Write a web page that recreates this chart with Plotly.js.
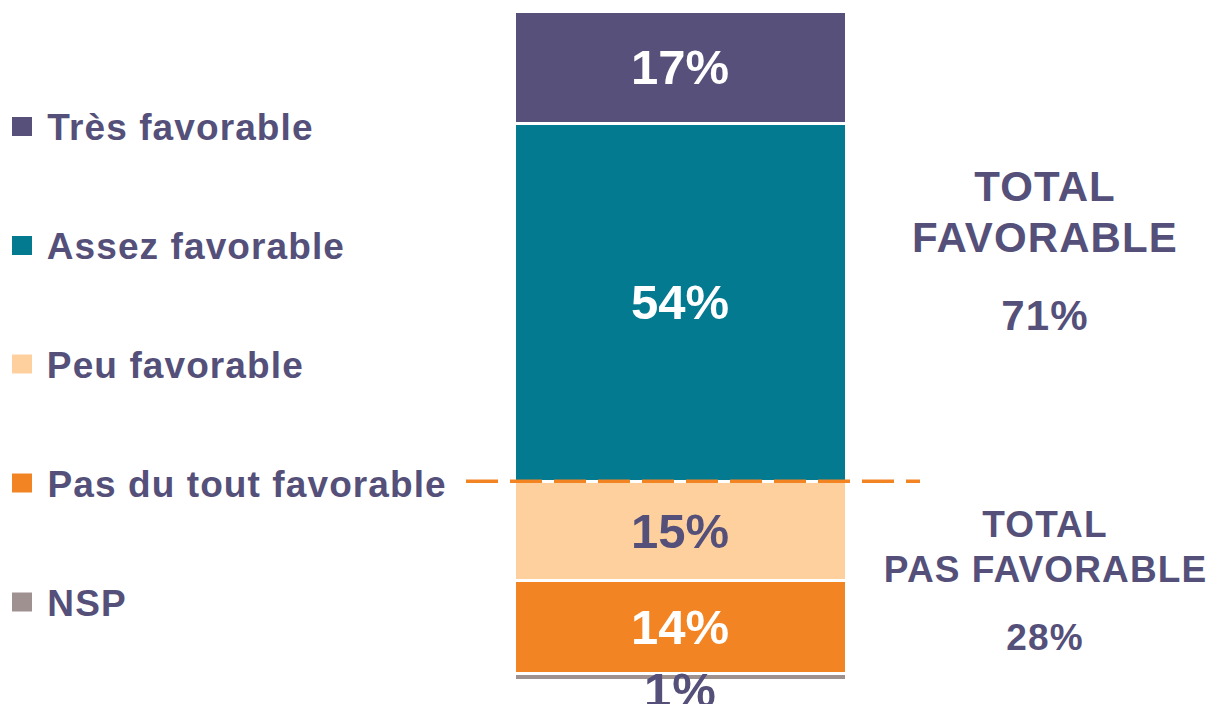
<!DOCTYPE html>
<html>
<head>
<meta charset="utf-8">
<script src="https://cdn.plot.ly/plotly-3.0.1.min.js"></script>
<style>
html,body{margin:0;padding:0;background:#fff;}
#chart{width:1213px;height:704px;}
#chart .annotation-text{letter-spacing:1.1px;}
</style>
</head>
<body>
<div id="chart"></div>
<script>
// ---- data (bottom to top of the stack) ----
const categories = ["NSP", "Pas du tout favorable", "Peu favorable", "Assez favorable", "Très favorable"];
const values = [1, 14, 15, 54, 17];
const colors = ["#9e9190", "#f38424", "#fdd09e", "#037a8f", "#56507a"];
const labelColors = ["#54507a", "#ffffff", "#54507a", "#ffffff", "#ffffff"];
const legendOrder = ["Très favorable", "Assez favorable", "Peu favorable", "Pas du tout favorable", "NSP"];
const totalLabels = [["TOTAL", "FAVORABLE"], ["TOTAL", "PAS FAVORABLE"]];
const totalValues = [71, 28];

// ---- geometry ----
const W = 1213, H = 704;
const mL = 514, mR = 367, mT = 11, mB = 24;
const pw = W - mL - mR, ph = H - mT - mB;
const px2x = p => (p - mL) / pw;
const px2y = p => (H - mB - p) / ph;
const LS = 1.1; // letter spacing (px) applied by CSS to annotation text

const FONT = "Liberation Sans, Arial, Helvetica, sans-serif";
const TXT = "#54507a";

const traces = categories.map((c, i) => ({
  type: "bar",
  name: c,
  x: ["total"],
  y: [values[i]],
  width: [1],
  marker: {color: colors[i], line: {color: "#ffffff", width: 3}},
  text: [values[i] + "%"],
  textposition: c === "NSP" ? "none" : "inside",
  insidetextanchor: "middle",
  textfont: {family: FONT, size: 49, color: labelColors[i], weight: 700},
  hoverinfo: "skip",
  showlegend: false
}));

const annotations = [];
const shapes = [];

// legend (squares + labels)
const legendY = [126.5, 245.5, 364, 483, 602];
legendOrder.forEach((name, k) => {
  const idx = categories.indexOf(name);
  const cy = legendY[k];
  shapes.push({type: "rect", xref: "paper", yref: "paper",
    x0: px2x(12), x1: px2x(32), y0: px2y(cy - 9.5), y1: px2y(cy + 9.5),
    fillcolor: colors[idx], line: {width: 0}});
  annotations.push({xref: "paper", yref: "paper", x: px2x(45 + LS * name.length / 2), y: px2y(cy + 1),
    xanchor: "left", yanchor: "middle", showarrow: false,
    text: name, font: {family: FONT, size: 37, color: TXT, weight: 700}});
});

// NSP label below the bar
annotations.push({xref: "x", yref: "y", x: "total", y: 0, xanchor: "center", yanchor: "middle",
  yshift: -10, showarrow: false, text: values[0] + "%",
  font: {family: FONT, size: 49, color: TXT, weight: 700}});

// totals on the right
const headPos = [[185, 236, 314], [523, 568, 636]];
const headSize = [42, 37];
totalLabels.forEach((lines, g) => {
  lines.forEach((t, j) => {
    annotations.push({xref: "paper", yref: "paper", x: px2x(1045), y: px2y(headPos[g][j] + 1),
      xanchor: "center", yanchor: "middle", showarrow: false, text: t,
      font: {family: FONT, size: headSize[g], color: TXT, weight: 700}});
  });
  annotations.push({xref: "paper", yref: "paper", x: px2x(1045), y: px2y(headPos[g][2] + 1),
    xanchor: "center", yanchor: "middle", showarrow: false, text: totalValues[g] + "%",
    font: {family: FONT, size: headSize[g], color: TXT, weight: 700}});
});

// dashed separator between favorable / not favorable
const total = values.reduce((a, b) => a + b, 0);
const sepVal = values[0] + values[1] + values[2];
shapes.push({type: "line", xref: "paper", yref: "paper",
  x0: px2x(466), x1: px2x(920), y0: sepVal / total, y1: sepVal / total,
  line: {color: "#f38424", width: 3.5, dash: "32px,12px"}, layer: "above"});

const layout = {
  width: W, height: H,
  margin: {l: mL, r: mR, t: mT, b: mB, pad: 0},
  paper_bgcolor: "#ffffff", plot_bgcolor: "#ffffff",
  barmode: "stack",
  showlegend: false,
  xaxis: {visible: false, range: [-0.5, 0.5], fixedrange: true},
  yaxis: {visible: false, range: [0, total], fixedrange: true},
  annotations: annotations,
  shapes: shapes,
  font: {family: FONT}
};

Plotly.newPlot("chart", traces, layout, {displayModeBar: false, staticPlot: true});
</script>
</body>
</html>
